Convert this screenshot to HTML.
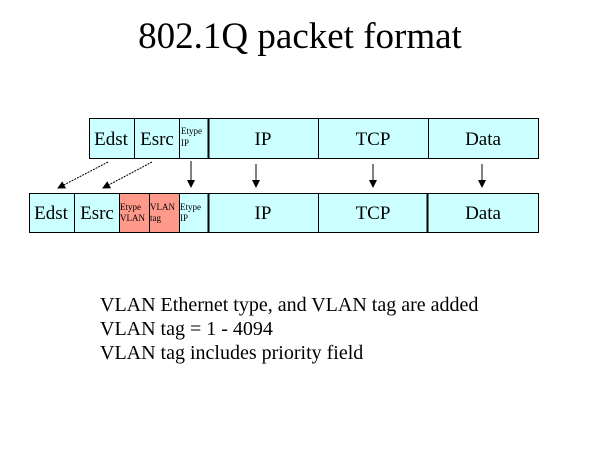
<html><body style="margin:0;width:600px;height:450px;background:#fff;position:relative;font-family:'Liberation Serif',serif;overflow:hidden">
<div style="position:absolute;left:0;width:600px;top:15px;text-align:center;font-size:37px">802.1Q packet format</div>
<svg width="600" height="450" style="position:absolute;left:0;top:0" font-family="Liberation Serif">
<defs><marker id="a" markerWidth="8" markerHeight="8" refX="7" refY="4" orient="auto" markerUnits="userSpaceOnUse"><path d="M0,0L8,4L0,8z"/></marker></defs>
<g stroke="#000" stroke-width="1">
<rect x="89.5" y="118.5" width="449" height="40" fill="#ccffff"/>
<line x1="134.5" y1="118" x2="134.5" y2="158"/><line x1="179.5" y1="118" x2="179.5" y2="158"/>
<line x1="208.5" y1="118" x2="208.5" y2="158" stroke-width="2"/><line x1="318.5" y1="118" x2="318.5" y2="158"/><line x1="428.5" y1="118" x2="428.5" y2="158"/>
<rect x="29.5" y="193.5" width="509" height="39" fill="#ccffff"/>
<rect x="119.5" y="193.5" width="60" height="39" fill="#ff9a8a"/>
<line x1="74.5" y1="193" x2="74.5" y2="232"/><line x1="149.5" y1="193" x2="149.5" y2="232"/>
<line x1="208.5" y1="193" x2="208.5" y2="232" stroke-width="2"/><line x1="318.5" y1="193" x2="318.5" y2="232"/><line x1="427.5" y1="193" x2="427.5" y2="232" stroke-width="2"/>
<g marker-end="url(#a)" stroke-dasharray="2,1">
<line x1="108" y1="162" x2="58" y2="188"/><line x1="152" y1="162" x2="103" y2="188"/>
</g>
<g marker-end="url(#a)">
<line x1="191" y1="161" x2="191" y2="187"/><line x1="256" y1="164" x2="256" y2="187"/><line x1="373" y1="164" x2="373" y2="187"/><line x1="482" y1="164" x2="482" y2="187"/>
</g>
</g>
<g font-size="19" text-anchor="middle">
<text x="111" y="145">Edst</text><text x="157" y="145">Esrc</text>
<text x="263" y="145">IP</text><text x="373" y="145">TCP</text><text x="483" y="145">Data</text>
<text x="51" y="219">Edst</text><text x="97" y="219">Esrc</text>
<text x="263" y="219">IP</text><text x="373" y="219">TCP</text><text x="483" y="219">Data</text>
</g>
<g font-size="9">
<text x="181" y="134">Etype</text><text x="181" y="146">IP</text>
<text x="120" y="210">Etype</text><text x="120" y="221">VLAN</text>
<text x="150" y="210">VLAN</text><text x="150" y="221">tag</text>
<text x="180" y="210">Etype</text><text x="180" y="221">IP</text>
</g>
<g font-size="20">
<text x="100" y="311">VLAN Ethernet type, and VLAN tag are added</text>
<text x="100" y="335">VLAN tag = 1 - 4094</text>
<text x="100" y="359">VLAN tag includes priority field</text>
</g>
</svg>
</body></html>
